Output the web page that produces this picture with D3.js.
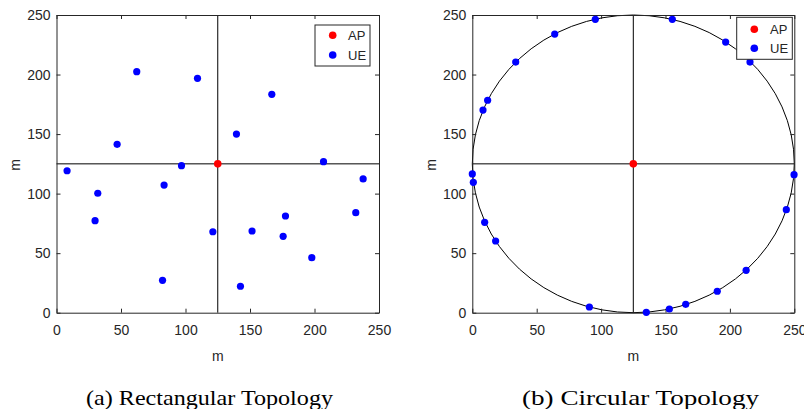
<!DOCTYPE html>
<html><head><meta charset="utf-8">
<script src="https://cdn.jsdelivr.net/npm/d3@7"></script>
<style>
html,body{margin:0;padding:0;background:#fff;}
svg{display:block;}
</style></head>
<body>
<svg id="chart" width="804" height="409"></svg>
<script>
// ---- data ----
const ticks = [0, 50, 100, 150, 200, 250];
const apPoint = [125, 125];
const rectUE_x = [8.2, 32.0, 47.0, 62.2, 83.4, 96.9, 109.3, 139.5, 166.9, 207.0, 237.7, 29.9, 82.2, 121.2, 142.6, 151.6, 175.7, 177.5, 197.9, 232.0];
const rectUE_y = [119.2, 100.3, 141.4, 202.4, 107.2, 123.5, 196.8, 150.0, 183.4, 126.8, 112.3, 77.3, 27.2, 68.0, 22.2, 68.6, 64.1, 81.2, 46.2, 84.0];
const circUE_x = [0.0, 0.8, 8.3, 11.9, 33.7, 64.0, 95.5, 155.3, 196.7, 215.6, 249.8, 9.6, 18.1, 90.9, 135.1, 153.0, 165.7, 190.2, 212.6, 243.8];
const circUE_y = [116.5, 109.5, 170.2, 178.4, 210.5, 234.0, 246.4, 246.4, 227.3, 210.5, 115.9, 75.9, 60.2, 4.8, 0.3, 3.1, 7.0, 18.0, 35.6, 86.5];
const circleRadius = 125;
const legendLabels = ["AP", "UE"];
const captions = ["(a) Rectangular Topology", "(b) Circular Topology"];
const axisLabel = "m";

const svg = d3.select("#chart");
const axisColor = "#262626";
const fontSans = "'Liberation Sans', Arial, Helvetica, sans-serif";

function panel(cfg) {
  const g = svg.append("g");
  const x = d3.scaleLinear().domain([0, 250]).range([cfg.x0, cfg.x1]);
  const y = d3.scaleLinear().domain([0, 250]).range([cfg.y1, cfg.y0]);

  g.append("rect").attr("x", cfg.x0).attr("y", cfg.y0)
    .attr("width", cfg.x1 - cfg.x0).attr("height", cfg.y1 - cfg.y0)
    .attr("fill", "#fff");

  // crosshair
  g.append("line").attr("x1", x(apPoint[0])).attr("x2", x(apPoint[0]))
    .attr("y1", cfg.y0).attr("y2", cfg.y1).attr("stroke", "#000").attr("stroke-width", 1);
  g.append("line").attr("x1", cfg.x0).attr("x2", cfg.x1)
    .attr("y1", y(apPoint[1])).attr("y2", y(apPoint[1])).attr("stroke", "#000").attr("stroke-width", 1);

  if (cfg.circle) {
    g.append("ellipse")
      .attr("cx", x(apPoint[0])).attr("cy", y(apPoint[1]))
      .attr("rx", x(apPoint[0] + circleRadius) - x(apPoint[0]))
      .attr("ry", y(apPoint[1]) - y(apPoint[1] + circleRadius))
      .attr("fill", "none").attr("stroke", "#000").attr("stroke-width", 1);
  }

  const tl = 4;
  const bottom = g.append("g").attr("transform", `translate(0,${cfg.y1})`)
    .call(d3.axisBottom(x).tickValues(ticks).tickSizeInner(-tl).tickSizeOuter(0).tickPadding(12));
  const left = g.append("g").attr("transform", `translate(${cfg.x0},0)`)
    .call(d3.axisLeft(y).tickValues(ticks).tickSizeInner(-tl).tickSizeOuter(0).tickPadding(6));
  const top = g.append("g").attr("transform", `translate(0,${cfg.y0})`)
    .call(d3.axisTop(x).tickValues(ticks).tickSizeInner(-tl).tickSizeOuter(0).tickFormat(""));
  const right = g.append("g").attr("transform", `translate(${cfg.x1},0)`)
    .call(d3.axisRight(y).tickValues(ticks).tickSizeInner(-tl).tickSizeOuter(0).tickFormat(""));
  [bottom, left, top, right].forEach(a => {
    a.select(".domain").attr("stroke", axisColor).attr("stroke-width", 1);
    a.selectAll(".tick line").attr("stroke", axisColor);
    a.selectAll(".tick text").attr("fill", axisColor)
      .style("font-family", fontSans).style("font-size", "14px");
  });

  const ue = cfg.ux.map((v, i) => [v, cfg.uy[i]]);
  g.append("g").selectAll("circle").data(ue).join("circle")
    .attr("cx", d => x(d[0])).attr("cy", d => y(d[1])).attr("r", 3.6)
    .attr("fill", "#0000ff");
  g.append("circle").attr("cx", x(apPoint[0])).attr("cy", y(apPoint[1])).attr("r", 3.8)
    .attr("fill", "#ff0000");

  g.append("text").attr("x", (cfg.x0 + cfg.x1) / 2).attr("y", 361)
    .attr("text-anchor", "middle").attr("fill", axisColor)
    .style("font-family", fontSans).style("font-size", "14px").text(axisLabel);
  g.append("text").attr("transform", `translate(${cfg.ylabX},${(cfg.y0 + cfg.y1) / 2 + 1}) rotate(-90)`)
    .attr("text-anchor", "middle").attr("fill", axisColor)
    .style("font-family", fontSans).style("font-size", "14px").text(axisLabel);

  const L = cfg.legend;
  g.append("rect").attr("x", L.x0).attr("y", L.y0).attr("width", L.x1 - L.x0).attr("height", L.y1 - L.y0)
    .attr("fill", "#fff").attr("stroke", axisColor).attr("stroke-width", 1);
  const colors = ["#ff0000", "#0000ff"];
  legendLabels.forEach((lab, i) => {
    g.append("circle").attr("cx", L.mx).attr("cy", L.ys[i]).attr("r", 3.8).attr("fill", colors[i]);
    g.append("text").attr("x", L.tx).attr("y", L.ys[i]).attr("dy", "0.35em")
      .attr("fill", axisColor).style("font-family", fontSans).style("font-size", "13px").text(lab);
  });

  g.append("text").attr("x", cfg.cap.x).attr("y", 405)
    .attr("textLength", cfg.cap.w).attr("lengthAdjust", "spacingAndGlyphs")
    .attr("fill", "#000").style("font-family", "'Liberation Serif', 'Times New Roman', serif")
    .style("font-size", "21px").text(cfg.cap.text);
}

panel({
  x0: 56.5, x1: 379, y0: 15, y1: 312.7, ylabX: 20,
  ux: rectUE_x, uy: rectUE_y, circle: false,
  legend: {x0: 315, x1: 370, y0: 25, y1: 66, mx: 332.7, tx: 348, ys: [35.3, 55]},
  cap: {x: 86, w: 247, text: captions[0]}
});
panel({
  x0: 472.3, x1: 794.3, y0: 15, y1: 312.7, ylabX: 436,
  ux: circUE_x, uy: circUE_y, circle: true,
  legend: {x0: 736.7, x1: 792.3, y0: 17.3, y1: 59.3, mx: 754.3, tx: 770, ys: [29.3, 48.3]},
  cap: {x: 522, w: 237, text: captions[1]}
});
</script>
</body></html>
